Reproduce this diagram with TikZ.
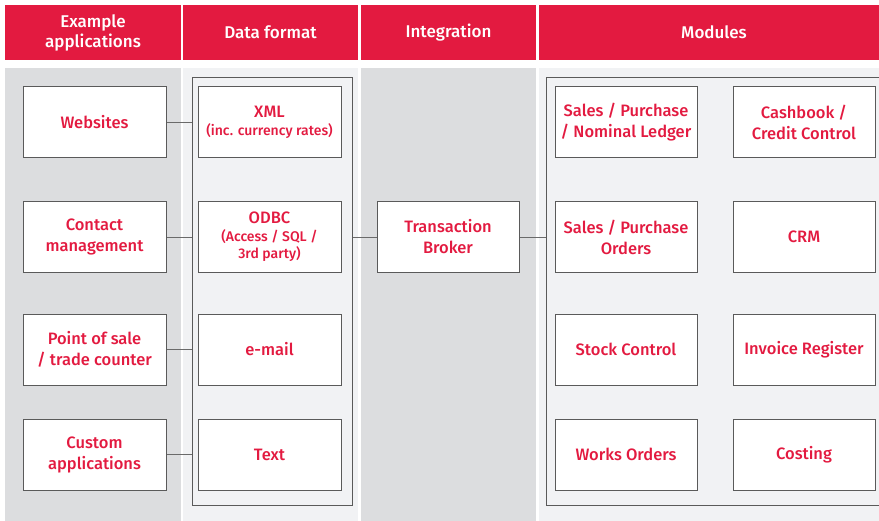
\documentclass[tikz,border=0pt]{standalone}
\usepackage{fontspec}
\setmainfont{Fira Sans}[BoldFont={Fira Sans Medium}]
\usetikzlibrary{positioning}

\definecolor{brandred}{HTML}{E31A40}
\definecolor{darkpanel}{HTML}{DCDDDF}
\definecolor{lightpanel}{HTML}{F1F2F4}
\definecolor{boxgrey}{HTML}{5A5A5A}
\definecolor{linegrey}{HTML}{6A6A6A}

\begin{document}
\begin{tikzpicture}[x=1pt, y=-1pt,
    head/.style={fill=brandred, text=white, inner sep=0pt, minimum height=55pt, align=center,
        font=\bfseries\fontsize{17}{20}\selectfont},
    panel/.style={inner sep=0pt, minimum height=457pt},
    box/.style={draw=boxgrey, line width=1pt, fill=white, inner sep=0pt, minimum width=143pt,
        minimum height=71pt, align=center, text=brandred, font=\bfseries\fontsize{16.5}{21}\selectfont},
    frame/.style={draw=boxgrey, line width=1pt, inner sep=0pt, minimum height=428pt},
    link/.style={draw=linegrey, line width=1pt},
]
\clip (0,0) rectangle (879,520);

% headers
\node[head, minimum width=176pt] (h1) at (93,32.5) {Example\\applications};
\node[head, minimum width=175pt] (h2) at (270.5,32.5) {Data format};
\node[head, minimum width=175pt] (h3) at (448.5,32.5) {Integration};
\node[head, minimum width=350pt] (h4) at (714,32.5) {Modules};

% panels
\node[panel, fill=darkpanel, minimum width=176pt] (p1) at (93,296.5) {};
\node[panel, fill=lightpanel, minimum width=175pt] (p2) at (270.5,296.5) {};
\node[panel, fill=darkpanel, minimum width=175pt] (p3) at (448.5,296.5) {};
\node[panel, fill=lightpanel, minimum width=350pt] (p4) at (714,296.5) {};

% frames
\node[frame, minimum width=160pt] (dfframe) at (272,291) {};
\node[frame, minimum width=344pt] (modframe) at (718,291) {};

% example applications
\node[box] (web) at (94.5,122) {Websites};
\node[box] (contact) at (94.5,237) {Contact\\management};
\node[box] (pos) at (94.5,349.5) {Point of sale\\/ trade counter};
\node[box] (custom) at (94.5,454.5) {Custom\\applications};

% data format
\node[box] (xml) at (269.5,122) {XML\\[-3pt]{\fontsize{14}{17}\selectfont (inc. currency rates)}};
\node[box] (odbc) at (269.5,237) {ODBC\\[-3pt]{\fontsize{14}{17}\selectfont (Access / SQL /}\\[-4pt]{\fontsize{14}{17}\selectfont 3rd party)}};
\node[box] (email) at (269.5,349.5) {e-mail};
\node[box] (text) at (269.5,454.5) {Text};

% integration
\node[box, minimum width=142pt] (broker) at (448,237) {Transaction\\Broker};

% modules
\node[box, minimum width=142pt] (ledger) at (626,122) {Sales / Purchase\\/ Nominal Ledger};
\node[box, minimum width=142pt] (cash) at (804,122) {Cashbook /\\Credit Control};
\node[box, minimum width=142pt] (orders) at (626,237) {Sales / Purchase\\Orders};
\node[box, minimum width=142pt] (crm) at (804,237) {CRM};
\node[box, minimum width=142pt] (stock) at (626,349.5) {Stock Control};
\node[box, minimum width=142pt] (invoice) at (804,349.5) {Invoice Register};
\node[box, minimum width=142pt] (works) at (626,454.5) {Works Orders};
\node[box, minimum width=142pt] (costing) at (804,454.5) {Costing};

% links
\foreach \app in {web,contact,pos,custom}
    \draw[link] (\app.east) -- (\app.east -| dfframe.west);
\draw[link] (dfframe.east |- broker.west) -- (broker.west);
\draw[link] (broker.east) -- (broker.east -| modframe.west);

\end{tikzpicture}
\end{document}
